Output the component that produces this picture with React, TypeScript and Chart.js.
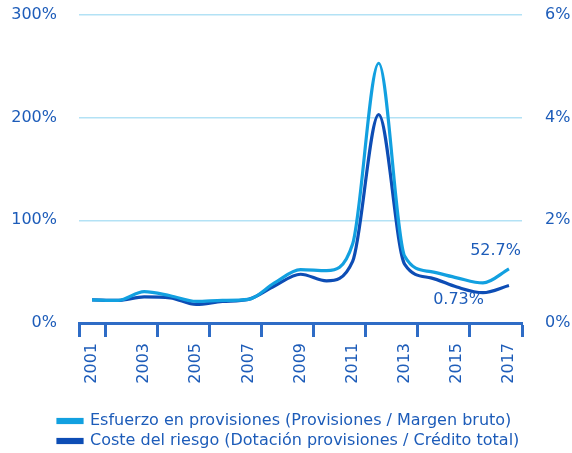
import React, { useEffect, useRef } from "react";
import { Chart, registerables } from "chart.js";

Chart.register(...registerables);

const years = [2001, 2002, 2003, 2004, 2005, 2006, 2007, 2008, 2009, 2010, 2011, 2012, 2013, 2014, 2015, 2016, 2017];
const esfuerzo = [22.5, 22, 30.5, 26.5, 21, 22, 23, 39, 52, 51, 77, 253, 65, 50, 44, 39, 52.7];
const coste = [0.45, 0.44, 0.51, 0.49, 0.36, 0.42, 0.46, 0.72, 0.95, 0.82, 1.2, 4.06, 1.14, 0.88, 0.7, 0.59, 0.73];
const labelYears = [2001, 2003, 2005, 2007, 2009, 2011, 2013, 2015, 2017];
const boundaryTicks = [2000.5, 2001.5, 2003.5, 2005.5, 2007.5, 2009.5, 2011.5, 2013.5, 2015.5, 2017.5];
const leftTicks = [0, 100, 200, 300];
const rightTicks = [0, 2, 4, 6];
const seriesNames = [
  "Esfuerzo en provisiones (Provisiones / Margen bruto)",
  "Coste del riesgo (Dotación provisiones / Crédito total)",
];
const endLabels = ["52.7%", "0.73%"];

const TEXT = "#1d5cb9";
const LIGHT = "#12a0e0";
const DARK = "#0d4db5";
const AXIS = "#2e6cc6";
const GRID = "#b3e2f5";

export default function App() {
  const ref = useRef<HTMLCanvasElement | null>(null);

  useEffect(() => {
    document.body.style.margin = "0";
    const canvas = ref.current;
    if (!canvas) return;
    Chart.defaults.font.family = "'DejaVu Sans'";
    Chart.defaults.font.size = 16;
    Chart.defaults.color = TEXT;

    const endLabelPlugin = {
      id: "endLabels",
      afterDatasetsDraw(chart: any) {
        const ctx = chart.ctx;
        ctx.save();
        ctx.font = "16px 'DejaVu Sans'";
        ctx.fillStyle = TEXT;
        ctx.textBaseline = "middle";
        ctx.textAlign = "right";
        const p0 = chart.getDatasetMeta(0).data[years.length - 1];
        ctx.fillText(endLabels[0], p0.x + 12, p0.y - 18);
        const p1 = chart.getDatasetMeta(1).data[years.length - 1];
        ctx.fillText(endLabels[1], p1.x - 25, p1.y + 14);
        ctx.restore();
      },
    };

    const legendShift = {
      id: "legendShift",
      afterLayout(chart: any) {
        const l = chart.legend;
        if (l) {
          const w = l.right - l.left;
          l.left = 54;
          l.right = 54 + w;
          l.top += 7;
          l.bottom += 7;
        }
      },
    };

    const fitY = (width: number) => (scale: any) => {
      scale.width = width;
      scale.paddingTop = 0;
      scale.paddingBottom = 0;
    };

    const chart = new Chart(canvas, {
      type: "line",
      data: {
        datasets: [
          {
            label: seriesNames[0],
            data: years.map((y, i) => ({ x: y, y: esfuerzo[i] })),
            borderColor: LIGHT,
            backgroundColor: LIGHT,
            borderWidth: 3.2,
            pointRadius: 0,
            cubicInterpolationMode: "monotone",
            yAxisID: "y",
          },
          {
            label: seriesNames[1],
            data: years.map((y, i) => ({ x: y, y: coste[i] })),
            borderColor: DARK,
            backgroundColor: DARK,
            borderWidth: 3.2,
            pointRadius: 0,
            cubicInterpolationMode: "monotone",
            yAxisID: "y2",
          },
        ],
      },
      options: {
        responsive: false,
        animation: false,
        layout: { padding: { top: 15, left: 0, right: 0, bottom: 1 } },
        plugins: {
          tooltip: { enabled: false },
          legend: {
            position: "bottom",
            align: "start",
            labels: {
              boxWidth: 24,
              boxHeight: 3,
              padding: 4,
              color: TEXT,
              font: { size: 16, family: "'DejaVu Sans'" },
            },
          },
        },
        scales: {
          x: {
            type: "linear",
            min: 2000.5,
            max: 2017.5,
            afterBuildTicks: (scale: any) => {
              const vals = [...labelYears, ...boundaryTicks].sort((a, b) => a - b);
              scale.ticks = vals.map((v) => ({ value: v }));
            },
            afterFit: (scale: any) => {
              scale.height = 79;
            },
            ticks: {
              autoSkip: false,
              maxRotation: 90,
              minRotation: 90,
              padding: 6,
              color: TEXT,
              callback: (v: any) => (Number.isInteger(v) ? String(v) : ""),
            },
            grid: {
              drawOnChartArea: false,
              drawTicks: true,
              tickLength: 14,
              tickWidth: 3,
              tickColor: (c: any) =>
                c.tick && boundaryTicks.includes(c.tick.value) ? AXIS : "rgba(0,0,0,0)",
            },
            border: { display: true, color: AXIS, width: 3 },
          },
          y: {
            position: "left",
            min: 0,
            max: 300,
            afterBuildTicks: (scale: any) => {
              scale.ticks = leftTicks.map((v) => ({ value: v }));
            },
            afterFit: fitY(79),
            ticks: {
              padding: 22,
              color: TEXT,
              callback: (v: any) => v + "%",
            },
            grid: {
              drawTicks: false,
              lineWidth: 1.5,
              color: (c: any) => (c.tick && c.tick.value === 0 ? "rgba(0,0,0,0)" : GRID),
            },
            border: { display: false },
          },
          y2: {
            position: "right",
            min: 0,
            max: 6,
            afterBuildTicks: (scale: any) => {
              scale.ticks = rightTicks.map((v) => ({ value: v }));
            },
            afterFit: fitY(50),
            ticks: {
              padding: 23,
              color: TEXT,
              callback: (v: any) => v + "%",
            },
            grid: { drawOnChartArea: false, drawTicks: false },
            border: { display: false },
          },
        },
      },
      plugins: [endLabelPlugin, legendShift],
    } as any);

    return () => chart.destroy();
  }, []);

  return (
    <div style={{ width: 572, height: 453 }}>
      <canvas ref={ref} width={572} height={453} />
    </div>
  );
}
